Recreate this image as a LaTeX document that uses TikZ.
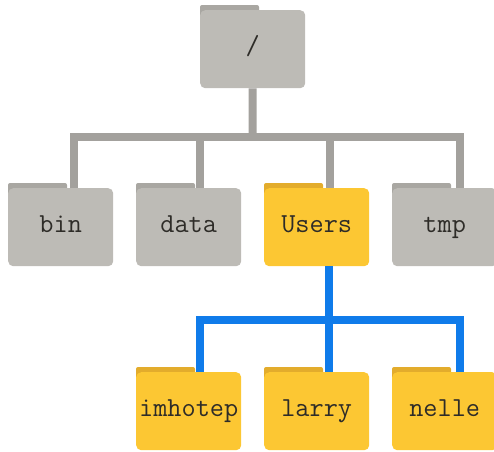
\documentclass[tikz,border=0pt]{standalone}
\pgfdeclarelayer{back}
\pgfsetlayers{back,main}
\definecolor{fgray}{HTML}{BDBBB6}
\definecolor{tgray}{HTML}{A9A7A2}
\definecolor{lgray}{HTML}{A3A19D}
\definecolor{fyel}{HTML}{FCC733}
\definecolor{tyel}{HTML}{E3AC2C}
\definecolor{lblue}{HTML}{0F7BEA}
\definecolor{txt}{HTML}{2E2C28}
\begin{document}
\begin{tikzpicture}[x=1pt,y=-1pt,
  folder/.style={rectangle, rounded corners=5pt, minimum width=105pt, minimum height=78pt,
    inner sep=0pt, anchor=north west, text=txt, text height=16pt, text depth=5pt,
    font=\ttfamily\fontsize{27.5}{27.5}\selectfont},
  grayf/.style={folder, fill=fgray},
  yelf/.style={folder, fill=fyel},
  glink/.style={draw=lgray, line width=8pt, line join=miter},
  blink/.style={draw=lblue, line width=8pt, line join=miter}]
\useasboundingbox (0,0) rectangle (494,451);
% folders
\node[grayf] (root) at (200,10) {/};
\node[grayf] (bin) at (8,188) {bin};
\node[grayf] (data) at (136,188) {data};
\node[yelf] (users) at (264,188) {Users};
\node[grayf] (tmp) at (392,188) {tmp};
\node[yelf] (imhotep) at (136,372) {imhotep};
\node[yelf] (larry) at (264,372) {larry};
\node[yelf] (nelle) at (392,372) {nelle};
% tabs
\begin{pgfonlayer}{back}
\foreach \n/\c in {root/tgray,bin/tgray,data/tgray,users/tyel,tmp/tgray,imhotep/tyel,larry/tyel,nelle/tyel}{
  \fill[\c, rounded corners=2pt] ([yshift=5pt]\n.north west) rectangle ([xshift=59pt,yshift=-8pt]\n.north west);
}
\end{pgfonlayer}
% connectors
\coordinate (gbar) at (252.5,137);
\coordinate (bbar) at (329,320);
\draw[glink] (root.south) -- (gbar);
\draw[glink] ([xshift=66pt]bin.north west) |- (gbar);
\draw[glink] ([xshift=64pt]data.north west) |- (gbar);
\draw[glink] ([xshift=66pt]users.north west) |- (gbar);
\draw[glink] ([xshift=68pt]tmp.north west) |- (gbar);
\draw[blink] ([xshift=65pt]users.south west) -- (bbar);
\draw[blink] ([xshift=64pt]imhotep.north west) |- (bbar);
\draw[blink] ([xshift=65pt]larry.north west) |- (bbar);
\draw[blink] ([xshift=68pt]nelle.north west) |- (bbar);
\end{tikzpicture}
\end{document}
